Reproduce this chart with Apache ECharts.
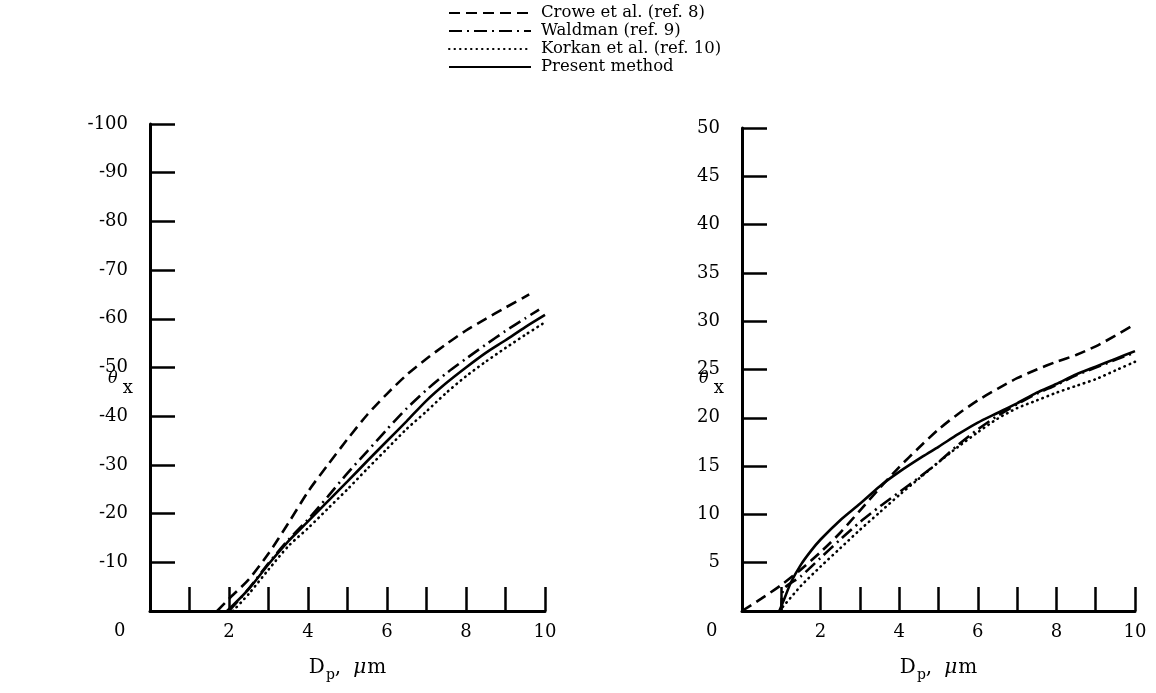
<!DOCTYPE html>
<html>
<head>
<meta charset="utf-8">
<script src="https://cdn.jsdelivr.net/npm/echarts@6/dist/echarts.min.js"></script>
<style>html,body{margin:0;padding:0;background:#fff;}#chart{width:1156px;height:693px;}</style>
</head>
<body>
<div id="chart"></div>
<script>
// ---- data (x = particle diameter Dp in micrometres, y = theta_x in degrees) ----
const seriesNames = ['Crowe et al. (ref. 8)', 'Waldman (ref. 9)', 'Korkan et al. (ref. 10)', 'Present method'];

const leftCrowe = [[1.7,0],[2.0,-2.5],[2.5,-6.5],[3.0,-11.8],[3.5,-18],[4.0,-24.5],[4.5,-30],[5.0,-35.3],[5.5,-40.3],[6.0,-44.6],[6.5,-48.5],[7.0,-51.8],[7.5,-54.8],[8.0,-57.6],[8.5,-60],[9.0,-62.3],[9.6,-65]];
const leftWaldman = [[2.0,0],[2.5,-4.6],[3.0,-9.8],[3.5,-14.6],[4.0,-18.8],[4.5,-23.5],[5.0,-28.3],[5.5,-32.8],[6.0,-37.3],[6.5,-41.6],[7.0,-45.4],[7.5,-48.8],[8.0,-51.8],[8.5,-54.7],[9.0,-57.5],[9.5,-60.1],[9.85,-61.9]];
const leftKorkan = [[2.1,0],[2.5,-3.5],[3.0,-8.5],[3.5,-13.3],[4.0,-17],[4.5,-21],[5.0,-25],[5.5,-29.2],[6.0,-33.3],[6.5,-37.4],[7.0,-41],[7.5,-44.8],[8.0,-48.2],[8.5,-51.2],[9.0,-54],[9.5,-56.7],[10.0,-59.3]];
const leftPresent = [[1.95,0],[2.5,-4.5],[3.0,-9.6],[3.5,-14.3],[4.0,-18.4],[4.5,-22.5],[5.0,-26.6],[5.5,-30.8],[6.0,-34.9],[6.5,-39],[7.0,-43.2],[7.5,-46.8],[8.0,-50],[8.5,-53],[9.0,-55.6],[9.5,-58.3],[10.0,-60.8]];

const rightCrowe = [[0,0],[0.5,1.3],[1.0,2.7],[1.5,4.3],[2.0,6.1],[2.5,8.1],[3.0,10.4],[3.5,12.7],[4.0,14.9],[4.5,16.9],[5.0,18.8],[5.5,20.4],[6.0,21.8],[6.5,23],[7.0,24.1],[7.5,25],[8.0,25.8],[8.5,26.5],[9.0,27.4],[9.5,28.5],[10.0,29.7]];
const rightWaldman = [[1.0,0],[1.05,2.2],[1.5,3.6],[2.0,5.5],[2.5,7.4],[3.0,9.2],[3.5,10.8],[4.0,12.3],[4.5,13.8],[5.0,15.4],[5.5,17.2],[6.0,18.8],[6.5,20.2],[7.0,21.4],[7.5,22.5],[8.0,23.4],[8.5,24.4],[9.0,25.2],[9.5,26.0],[9.9,26.6]];
const rightKorkan = [[0.95,0],[1.5,2.6],[2.0,4.6],[2.5,6.5],[3.0,8.4],[3.5,10.2],[4.0,12.0],[4.5,13.7],[5.0,15.4],[5.5,17.0],[6.0,18.5],[6.5,19.9],[7.0,21.0],[7.5,21.8],[8.0,22.6],[8.5,23.3],[9.0,24.0],[9.5,24.9],[10.0,25.8]];
const rightPresent = [[0.95,0],[1.1,1.5],[1.25,3],[1.5,4.8],[1.75,6.2],[2.0,7.4],[2.5,9.4],[3.0,11.1],[3.5,12.9],[4.0,14.4],[4.6,16],[5.0,17],[5.5,18.3],[6.0,19.5],[6.5,20.5],[7.0,21.5],[7.5,22.6],[8.0,23.5],[8.5,24.5],[9.0,25.3],[9.5,26.1],[10.0,26.9]];

const xRange = [0, 10];
const leftYRange = [-100, 0];
const rightYRange = [0, 50];

// ---- styling ----
const FONT = 'DejaVu Serif';
const styles = [
  { type: [11, 6], cap: 'butt' },
  { type: [13, 5, 2, 5], cap: 'butt' },
  { type: [0.5, 5], cap: 'round' },
  { type: 'solid', cap: 'butt' }
];

function makeX(gridIndex) {
  return {
    type: 'value', gridIndex, min: xRange[0], max: xRange[1], interval: 1,
    axisLine: { show: true, onZero: false, lineStyle: { color: '#000', width: 3 } },
    axisTick: { show: true, inside: true, length: 24, lineStyle: { color: '#000', width: 2.5 } },
    splitLine: { show: false },
    axisLabel: {
      color: '#000', fontFamily: FONT, fontSize: 18, margin: 12,
      formatter: v => (v !== 0 && v % 2 === 0) ? String(v) : ''
    },
    name: '{d|D}{s|p}{t|,}{m|μ}{t|m}',
    nameLocation: 'middle', nameGap: 43,
    nameTextStyle: {
      color: '#000', fontFamily: FONT,
      rich: {
        d: { fontSize: 20, fontFamily: FONT, color: '#000' },
        s: { fontSize: 14, fontFamily: FONT, color: '#000', padding: [14, 0, 0, 1] },
        t: { fontSize: 20, fontFamily: FONT, color: '#000' },
        m: { fontSize: 20, fontFamily: FONT, color: '#000', fontStyle: 'italic', padding: [0, 1, 0, 12] }
      }
    }
  };
}
function makeY(gridIndex, range, interval, inverse) {
  return {
    type: 'value', gridIndex, min: range[0], max: range[1], interval, inverse,
    axisLine: { show: true, onZero: false, lineStyle: { color: '#000', width: 3 } },
    axisTick: { show: true, inside: true, length: 25, lineStyle: { color: '#000', width: 2.5 } },
    splitLine: { show: false },
    axisLabel: {
      color: '#000', fontFamily: FONT, fontSize: 18, margin: 22,
      formatter: v => v === 0 ? '' : String(v)
    }
  };
}
function makeSeries(name, data, idx, axisIdx) {
  return {
    name, type: 'line', data, xAxisIndex: axisIdx, yAxisIndex: axisIdx,
    smooth: 0.25, symbol: 'none', showSymbol: false, silent: true, animation: false,
    lineStyle: { color: '#000', width: 2.6, type: styles[idx].type, cap: styles[idx].cap }
  };
}

const chart = echarts.init(document.getElementById('chart'), null, { renderer: 'canvas' });
const thetaRich = {
  th: { fontSize: 16, fontStyle: 'italic', fontFamily: FONT, fill: '#000', padding: [0, 0, 9, 0] },
  x: { fontSize: 18, fontFamily: FONT, fill: '#000', padding: [9, 0, 0, 5] }
};
chart.setOption({
  backgroundColor: '#fff',
  animation: false,
  legend: {
    data: seriesNames,
    orient: 'vertical', left: 443, top: -1,
    itemWidth: 82, itemHeight: 12, itemGap: 0,
    textStyle: { color: '#000', fontFamily: FONT, fontSize: 16.5, lineHeight: 18, padding: [0, 0, 0, 5] },
    itemStyle: { opacity: 0 },
    selectedMode: false
  },
  grid: [
    { left: 150, top: 124, width: 395, height: 487 },
    { left: 742, top: 128, width: 393, height: 483 }
  ],
  xAxis: [makeX(0), makeX(1)],
  yAxis: [makeY(0, leftYRange, 10, true), makeY(1, rightYRange, 5, false)],
  series: [
    makeSeries(seriesNames[0], leftCrowe, 0, 0),
    makeSeries(seriesNames[1], leftWaldman, 1, 0),
    makeSeries(seriesNames[2], leftKorkan, 2, 0),
    makeSeries(seriesNames[3], leftPresent, 3, 0),
    makeSeries(seriesNames[0], rightCrowe, 0, 1),
    makeSeries(seriesNames[1], rightWaldman, 1, 1),
    makeSeries(seriesNames[2], rightKorkan, 2, 1),
    makeSeries(seriesNames[3], rightPresent, 3, 1)
  ],
  graphic: [
    { type: 'text', left: 114, top: 622, style: { text: '0', font: '18px "DejaVu Serif"', fill: '#000' } },
    { type: 'text', left: 706, top: 622, style: { text: '0', font: '18px "DejaVu Serif"', fill: '#000' } },
    { type: 'text', left: 108, top: 371, style: { text: '{th|θ}{x|x}', rich: thetaRich } },
    { type: 'text', left: 699, top: 371, style: { text: '{th|θ}{x|x}', rich: thetaRich } }
  ]
});
</script>
</body>
</html>
